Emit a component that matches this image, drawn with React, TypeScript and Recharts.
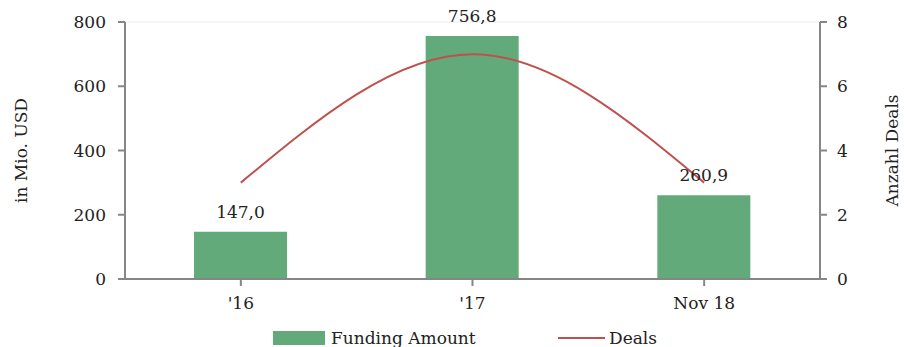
import { Bar, CartesianGrid, ComposedChart, LabelList, Line, XAxis, YAxis } from "recharts";

const periods = ["'16", "'17", "Nov 18"];
const fundingAmount = [147.0, 756.8, 260.9];
const deals = [3, 7, 3];
const fundingTicks = [0, 200, 400, 600, 800];
const dealTicks = [0, 2, 4, 6, 8];

const data = periods.map((period, i) => ({
  period,
  funding: fundingAmount[i],
  deals: deals[i],
}));

const FONT = "'DejaVu Serif', Georgia, serif";
const AXIS = "#868686";
const GREEN = "#63aa7b";
const RED = "#c0504d";
const TEXT = "#222";
const FS = 17;

const formatComma = (v: number) => v.toFixed(1).replace(".", ",");

export default function App() {
  return (
    <div style={{ position: "absolute", left: 0, top: 0, width: 904, height: 347, fontFamily: FONT }}>
      <ComposedChart
        width={904}
        height={347}
        data={data}
        margin={{ top: 22, right: 0, bottom: 28, left: 0 }}
      >
        <CartesianGrid vertical={false} stroke="#ececec" strokeWidth={1} />
        <XAxis
          dataKey="period"
          height={40}
          stroke={AXIS}
          strokeWidth={2}
          tickSize={7}
          tickMargin={11}
          tick={{ fill: TEXT, fontSize: FS, fontFamily: FONT }}
          tickLine={{ stroke: AXIS, strokeWidth: 2 }}
        />
        <YAxis
          yAxisId="left"
          width={125}
          domain={[0, 800]}
          ticks={fundingTicks}
          stroke={AXIS}
          strokeWidth={2}
          tickSize={7}
          tickMargin={12}
          tick={{ fill: TEXT, fontSize: FS, fontFamily: FONT }}
          label={{
            value: "in Mio. USD",
            angle: -90,
            position: "insideLeft",
            offset: 21,
            style: { textAnchor: "middle", fill: TEXT, fontSize: FS, fontFamily: FONT },
          }}
        />
        <YAxis
          yAxisId="right"
          orientation="right"
          width={84}
          domain={[0, 8]}
          ticks={dealTicks}
          stroke={AXIS}
          strokeWidth={2}
          tickSize={7}
          tickMargin={10}
          tick={{ fill: TEXT, fontSize: FS, fontFamily: FONT }}
          label={{
            value: "Anzahl Deals",
            angle: -90,
            position: "insideRight",
            offset: 12,
            style: { textAnchor: "middle", fill: TEXT, fontSize: FS, fontFamily: FONT },
          }}
        />
        <Bar yAxisId="left" dataKey="funding" fill={GREEN} barSize={93} isAnimationActive={false}>
          <LabelList
            dataKey="funding"
            position="top"
            offset={14}
            formatter={(v: number) => formatComma(Number(v))}
            style={{ fill: TEXT, fontSize: FS, fontFamily: FONT }}
          />
        </Bar>
        <Line
          yAxisId="right"
          type="monotone"
          dataKey="deals"
          stroke={RED}
          strokeWidth={2}
          dot={false}
          isAnimationActive={false}
        />
      </ComposedChart>
      <div style={{ position: "absolute", top: 328, left: 0, width: 904, height: 20, fontSize: FS, color: TEXT, lineHeight: "20px" }}>
        <span style={{ position: "absolute", left: 273, top: 3, width: 52, height: 14, background: GREEN }} />
        <span style={{ position: "absolute", left: 331, top: 0, whiteSpace: "nowrap" }}>Funding Amount</span>
        <span style={{ position: "absolute", left: 558, top: 9, width: 47, height: 2, background: RED }} />
        <span style={{ position: "absolute", left: 609, top: 0, whiteSpace: "nowrap" }}>Deals</span>
      </div>
    </div>
  );
}
